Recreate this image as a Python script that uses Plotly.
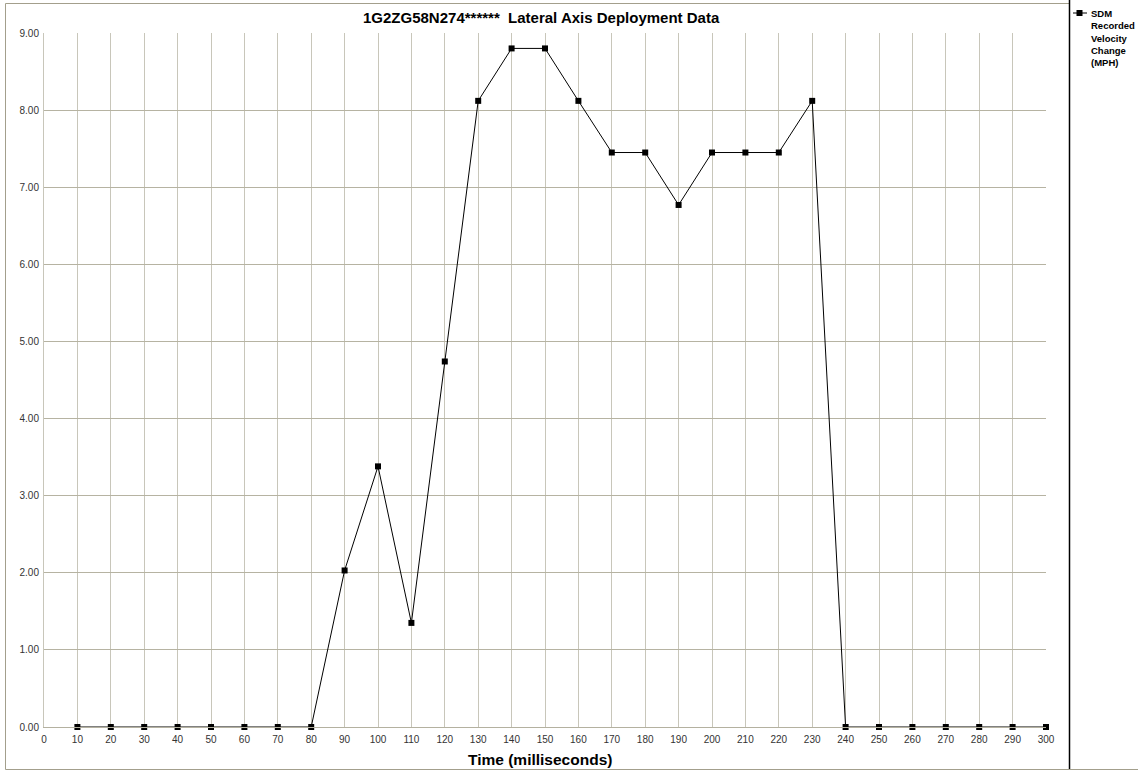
import plotly.graph_objects as go

time_ms = [10, 20, 30, 40, 50, 60, 70, 80, 90, 100, 110, 120, 130, 140, 150,
           160, 170, 180, 190, 200, 210, 220, 230, 240, 250, 260, 270, 280, 290, 300]
velocity_change = [0.00, 0.00, 0.00, 0.00, 0.00, 0.00, 0.00, 0.00, 2.03, 3.38,
                   1.35, 4.74, 8.12, 8.80, 8.80, 8.12, 7.45, 7.45, 6.77, 7.45,
                   7.45, 7.45, 8.12, 0.00, 0.00, 0.00, 0.00, 0.00, 0.00, 0.00]
x_ticks = list(range(0, 301, 10))
y_ticks = [0, 1, 2, 3, 4, 5, 6, 7, 8, 9]
y_tick_labels = ["%.2f" % v for v in y_ticks]

title_text = "1G2ZG58N274******\u00a0 Lateral Axis Deployment Data"
x_title = "Time (milliseconds)"
legend_lines = ["SDM", "Recorded", "Velocity", "Change", "(MPH)"]

W, H = 1138, 771
L, R, T, B = 44, 1046, 33, 727
pw, ph = R - L, B - T


def px(x):
    return (x - L) / pw


def py(y):
    return (B - y) / ph


fig = go.Figure()
fig.add_trace(go.Scatter(
    x=time_ms, y=velocity_change, mode="lines+markers",
    line=dict(color="black", width=1),
    marker=dict(symbol="square", size=6, color="black"),
    cliponaxis=False, showlegend=False, hoverinfo="x+y",
))

font_family = "Liberation Sans, Arial, sans-serif"
fig.update_layout(
    width=W, height=H,
    margin=dict(l=L, r=W - R, t=T, b=H - B, pad=0),
    paper_bgcolor="white", plot_bgcolor="white",
    font=dict(family=font_family, size=10, color="#333333"),
    xaxis=dict(range=[0, 300], tickvals=x_ticks, ticks="", showgrid=True,
               gridcolor="#c8c6ba", gridwidth=1, zeroline=False,
               showline=True, linecolor="#b4b1a0", linewidth=1,
               tickfont=dict(size=10, color="#333333"), ticklabelstandoff=3),
    yaxis=dict(range=[0, 9], tickvals=y_ticks, ticktext=y_tick_labels, ticks="",
               showgrid=True, gridcolor="#b6b3a2", gridwidth=1, zeroline=False,
               showline=True, linecolor="#c8c6ba", linewidth=1,
               tickfont=dict(size=10, color="#333333"), ticklabelstandoff=2),
    showlegend=False,
)

annotations = [
    dict(text="<b>%s</b>" % title_text, x=px(541), y=py(18), xref="paper", yref="paper",
         showarrow=False, xanchor="center", yanchor="middle",
         font=dict(size=15, color="black", family=font_family)),
    dict(text="<b>%s</b>" % x_title, x=px(540), y=py(759), xref="paper", yref="paper",
         showarrow=False, xanchor="center", yanchor="middle",
         font=dict(size=15.5, color="black", family=font_family)),
    dict(text="<b>" + "<br>".join(legend_lines) + "</b>", x=px(1089), y=py(6),
         xref="paper", yref="paper", showarrow=False, xanchor="left", yanchor="top",
         align="left", font=dict(size=9.5, color="black", family=font_family)),
]
fig.update_layout(annotations=annotations)

border = "#a39f8c"
shapes = [
    # outer frame
    dict(type="line", xref="paper", yref="paper", x0=px(5.5), x1=px(5.5), y0=py(3.5), y1=py(769.5),
         line=dict(color=border, width=1)),
    dict(type="line", xref="paper", yref="paper", x0=px(5.5), x1=px(1069), y0=py(3.5), y1=py(3.5),
         line=dict(color=border, width=1)),
    dict(type="line", xref="paper", yref="paper", x0=px(5.5), x1=px(1138), y0=py(769.5), y1=py(769.5),
         line=dict(color=border, width=1)),
    # legend divider
    dict(type="line", xref="paper", yref="paper", x0=px(1069.5), x1=px(1069.5), y0=py(0), y1=py(769),
         line=dict(color="black", width=1.5)),
    # legend glyph
    dict(type="line", xref="paper", yref="paper", x0=px(1073), x1=px(1087), y0=py(13), y1=py(13),
         line=dict(color="black", width=1)),
    dict(type="rect", xref="paper", yref="paper", x0=px(1076.5), x1=px(1082.5), y0=py(10), y1=py(16),
         line=dict(color="black", width=0), fillcolor="black"),
]
fig.update_layout(shapes=shapes)

fig.write_html("out.html", config={"displayModeBar": False},
               post_script="document.body.style.margin='0';")
